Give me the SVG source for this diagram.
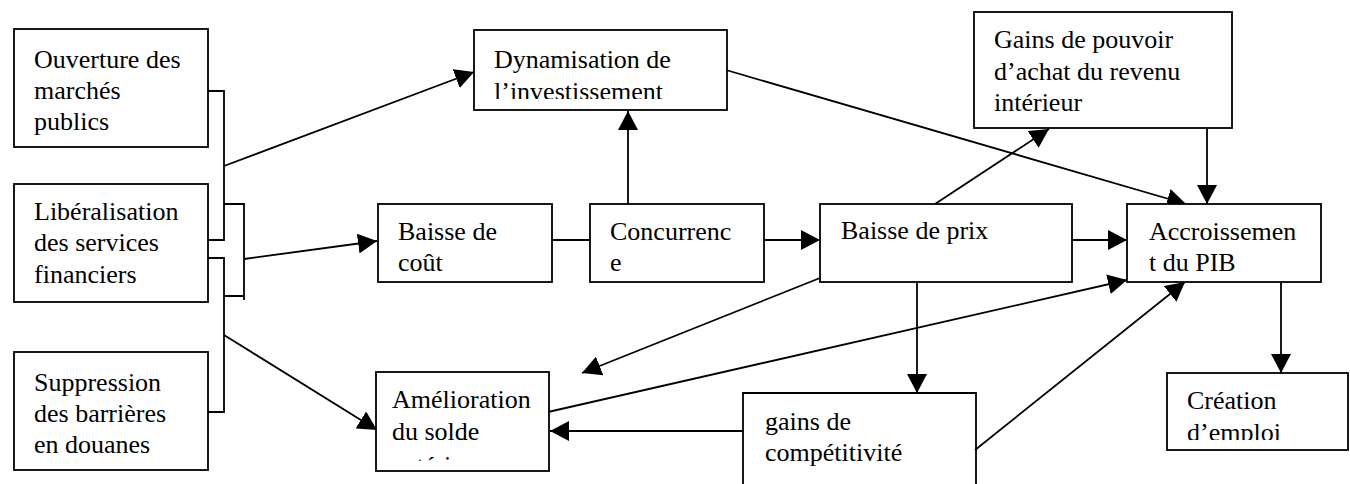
<svg xmlns="http://www.w3.org/2000/svg" width="1350" height="484" viewBox="0 0 1350 484">
<style>
.box{fill:#fff;stroke:#000;stroke-width:1.8}
.t{font-family:"Liberation Serif","Times New Roman",serif;font-size:26px;fill:#000}
.ln{fill:none;stroke:#000;stroke-width:1.8}
.ar{fill:none;stroke:#000;stroke-width:1.8;marker-end:url(#ah)}
</style>
<defs>
<marker id="ah" markerUnits="userSpaceOnUse" markerWidth="20" markerHeight="20" refX="19" refY="10" orient="auto">
<path d="M0,0 L19,10 L0,20 z" fill="#000"/>
</marker>
<clipPath id="cDyn"><rect x="474" y="30" width="253" height="69"/></clipPath>
<clipPath id="cAme"><rect x="375" y="372" width="174" height="89"/></clipPath>
<clipPath id="cCre"><rect x="1167" y="373" width="183" height="67"/></clipPath>
</defs>

<g id="connectors">
<path class="ln" d="M206,91 H224 V240 H206"/>
<path class="ln" d="M224,204 H244 V300 M224,296 H244"/>
<path class="ln" d="M206,258 H224 V412 H206"/>
<line class="ar" x1="224" y1="166" x2="474" y2="72"/>
<line class="ar" x1="244" y1="259" x2="377" y2="241"/>
<line class="ar" x1="224" y1="335" x2="377" y2="430"/>
<line class="ln" x1="552" y1="240" x2="590" y2="240"/>
<line class="ar" x1="628" y1="204" x2="628" y2="111"/>
<line class="ar" x1="764" y1="240" x2="820" y2="240"/>
<line class="ar" x1="1072" y1="240" x2="1127" y2="240"/>
<line class="ar" x1="726" y1="70" x2="1186" y2="204"/>
<line class="ar" x1="935" y1="204" x2="1049" y2="129"/>
<line class="ar" x1="1207" y1="128" x2="1207" y2="204"/>
<line class="ar" x1="917" y1="278" x2="917" y2="393"/>
<line class="ar" x1="820" y1="278" x2="582" y2="373"/>
<line class="ar" x1="548" y1="412" x2="1127" y2="280"/>
<line class="ar" x1="975" y1="450" x2="1185" y2="282"/>
<line class="ar" x1="743" y1="431" x2="550" y2="431"/>
<line class="ar" x1="1281" y1="278" x2="1281" y2="373"/>
</g>

<g id="ouverture">
<rect class="box" x="14" y="29" width="194" height="118"/>
<text class="t" x="34" y="68">Ouverture des</text>
<text class="t" x="34" y="99">marchés</text>
<text class="t" x="34" y="130">publics</text>
</g>
<g id="liberalisation">
<rect class="box" x="14" y="184" width="194" height="118"/>
<text class="t" x="34" y="220">Libéralisation</text>
<text class="t" x="34" y="251">des services</text>
<text class="t" x="34" y="283">financiers</text>
</g>
<g id="suppression">
<rect class="box" x="14" y="352" width="194" height="118"/>
<text class="t" x="34" y="391">Suppression</text>
<text class="t" x="34" y="422">des barrières</text>
<text class="t" x="34" y="453">en douanes</text>
</g>
<g id="dynamisation">
<rect class="box" x="474" y="30" width="253" height="80"/>
<g clip-path="url(#cDyn)">
<text class="t" x="494" y="68">Dynamisation de</text>
<text class="t" x="494" y="100">l’investissement</text>
</g>
</g>
<g id="baisse-cout">
<rect class="box" x="378" y="204" width="174" height="78"/>
<text class="t" x="398" y="240">Baisse de</text>
<text class="t" x="398" y="271">coût</text>
</g>
<g id="concurrence">
<rect class="box" x="590" y="204" width="174" height="78"/>
<text class="t" x="610" y="240">Concurrenc</text>
<text class="t" x="610" y="271">e</text>
</g>
<g id="baisse-prix">
<rect class="box" x="820" y="204" width="252" height="78"/>
<text class="t" x="841" y="239">Baisse de prix</text>
</g>
<g id="gains-pouvoir">
<rect class="box" x="974" y="12" width="258" height="116"/>
<text class="t" x="994" y="48">Gains de pouvoir</text>
<text class="t" x="994" y="80">d’achat du revenu</text>
<text class="t" x="994" y="111">intérieur</text>
</g>
<g id="accroissement">
<rect class="box" x="1127" y="204" width="194" height="78"/>
<text class="t" x="1149" y="240">Accroissemen</text>
<text class="t" x="1149" y="271">t du PIB</text>
</g>
<g id="amelioration">
<rect class="box" x="376" y="372" width="173" height="99"/>
<g clip-path="url(#cAme)">
<text class="t" x="392" y="408">Amélioration</text>
<text class="t" x="392" y="440">du solde</text>
<text class="t" x="392" y="474">extérieur</text>
</g>
</g>
<g id="gains-competitivite">
<path class="ln" d="M743,486 V393 H976 V486"/>
<text class="t" x="765" y="430">gains de</text>
<text class="t" x="765" y="461">compétitivité</text>
</g>
<g id="creation">
<rect class="box" x="1167" y="373" width="181" height="77"/>
<g clip-path="url(#cCre)">
<text class="t" x="1187" y="409">Création</text>
<text class="t" x="1187" y="441">d’emploi</text>
</g>
</g>
</svg>
